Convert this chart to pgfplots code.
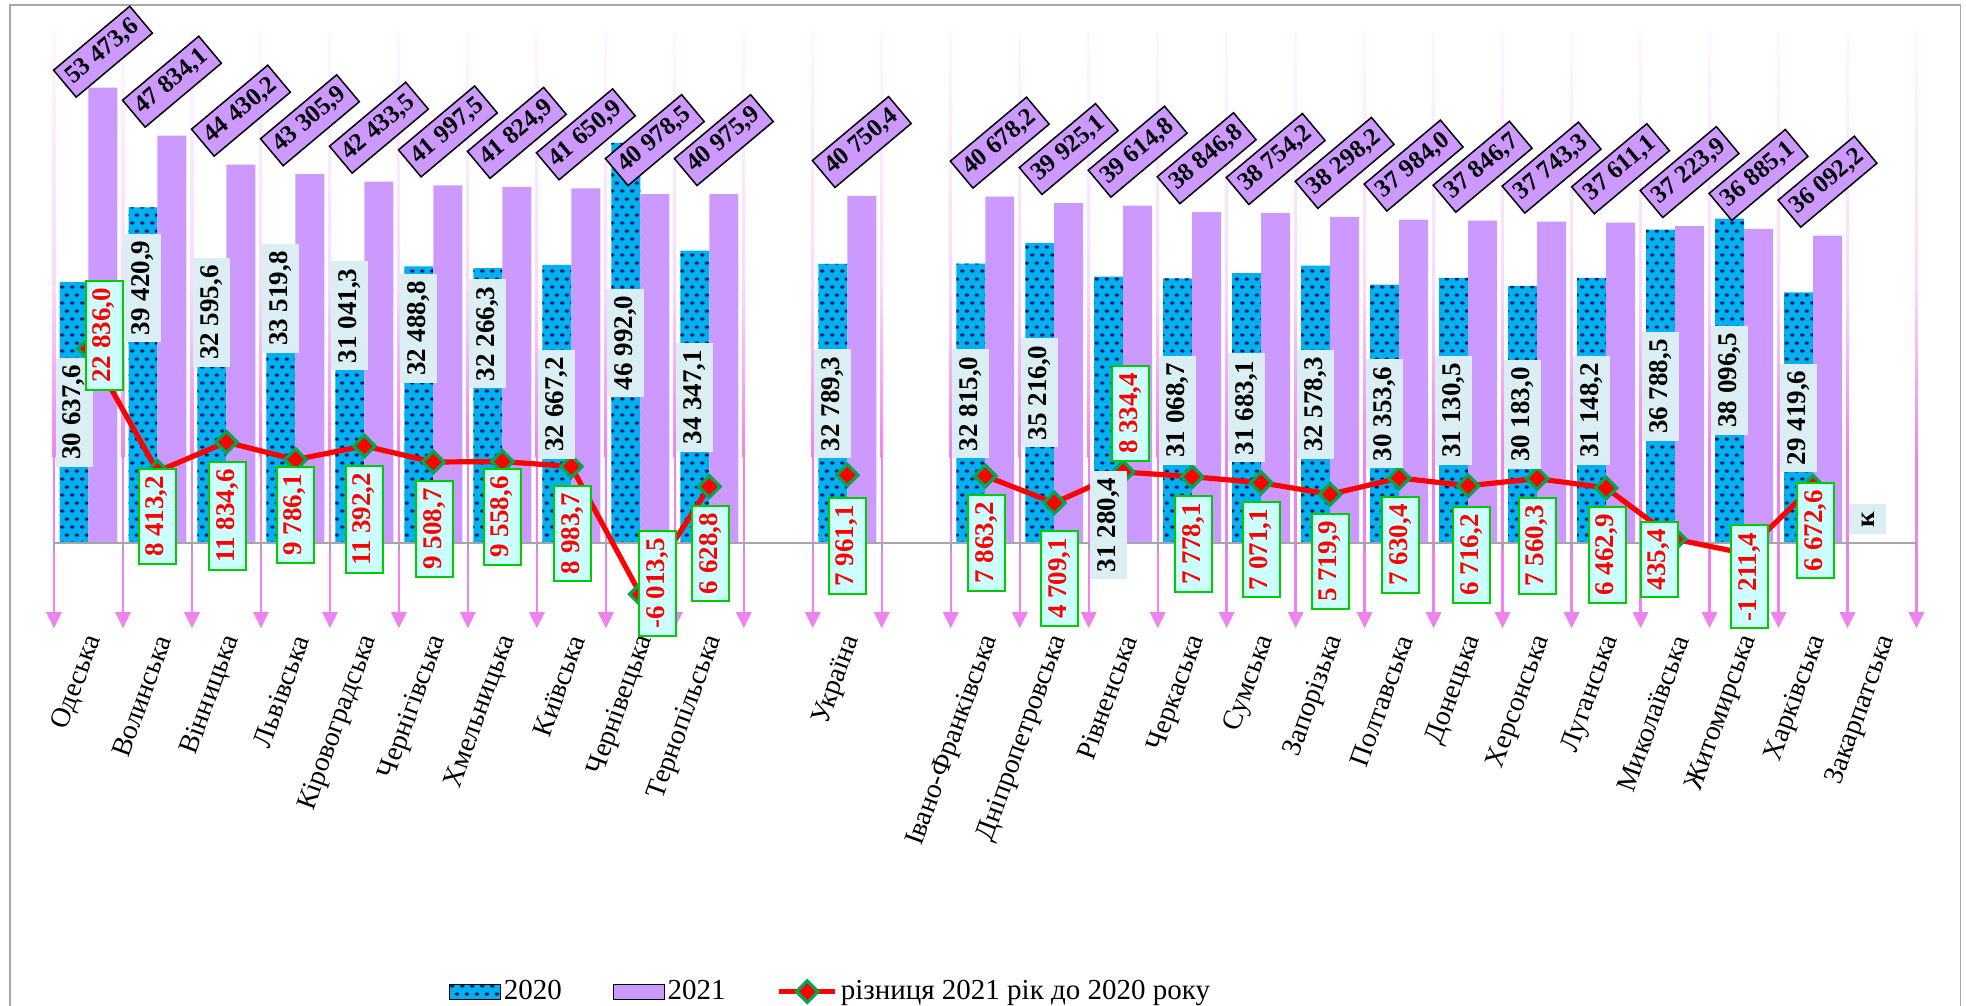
\documentclass[border=0pt]{standalone}
\usepackage{fontspec}
\setmainfont{Liberation Serif}
\usepackage{pgfplots}
\pgfplotsset{compat=1.18}
\usepackage{pgfplotstable}
\usetikzlibrary{patterns.meta}

\definecolor{b20}{HTML}{00B0F0}
\definecolor{dot20}{HTML}{002060}
\definecolor{p21}{HTML}{CC99FF}
\definecolor{lab20fill}{HTML}{DAEEF3}
\definecolor{labdfill}{HTML}{CCFFFF}
\definecolor{labdborder}{HTML}{00CC00}
\definecolor{mkgreen}{HTML}{00A650}
\definecolor{gridv}{HTML}{EE82EE}
\definecolor{axgray}{HTML}{A6A6A6}

\tikzdeclarepattern{
  name=exceldots,
  type=uncolored,
  bounding box={(0pt,0pt) and (5pt,8.2pt)},
  tile size={(5pt,8.2pt)},
  code={
    \fill (1.25pt,2.05pt) ellipse [x radius=1.25pt, y radius=0.85pt];
    \fill (3.75pt,6.15pt) ellipse [x radius=1.25pt, y radius=0.85pt];
  }
}

\tikzset{
  lab21/.style={font=\fontsize{12.5}{13}\selectfont\bfseries, text=black, fill=p21, draw=black, line width=0.75pt, rotate=40, inner xsep=3pt, inner ysep=3.2pt, text height=8.6pt, text depth=2.6pt, anchor=center},
  lab20/.style={font=\fontsize{13.5}{14}\selectfont\bfseries, text=black, fill=lab20fill, draw=none, rotate=90, inner xsep=3.6pt, inner ysep=3.3pt, text height=9.2pt, text depth=2.7pt, anchor=center},
  labd/.style={font=\fontsize{13.5}{14}\selectfont\bfseries, text=red, fill=labdfill, draw=labdborder, line width=1pt, rotate=90, inner xsep=3.6pt, inner ysep=3.3pt, text height=9.2pt, text depth=2.7pt, anchor=center},
}
\pgfplotsset{
  barleg/.style={legend image code/.code={\draw[##1] (0pt,-3.75pt) rectangle (25.5pt,3.75pt);}},
  lineleg/.style={legend image code/.code={\draw[##1, mark repeat=2, mark phase=2] plot coordinates {(0pt,0pt) (14pt,0pt) (28pt,0pt)};}},
}

\pgfplotstableread{
x a b d
0 30637.6 53473.6 22836.0
1 39420.9 47834.1 8413.2
2 32595.6 44430.2 11834.6
3 33519.8 43305.9 9786.1
4 31041.3 42433.5 11392.2
5 32488.8 41997.5 9508.7
6 32266.3 41824.9 9558.6
7 32667.2 41650.9 8983.7
8 46992.0 40978.5 -6013.5
9 34347.1 40975.9 6628.8
10 nan nan nan
11 32789.3 40750.4 7961.1
12 nan nan nan
13 32815.0 40678.2 7863.2
14 35216.0 39925.1 4709.1
15 31280.4 39614.8 8334.4
16 31068.7 38846.8 7778.1
17 31683.1 38754.2 7071.1
18 32578.3 38298.2 5719.9
19 30353.6 37984.0 7630.4
20 31130.5 37846.7 6716.2
21 30183.0 37743.3 7560.3
22 31148.2 37611.1 6462.9
23 36788.5 37223.9 435.4
24 38096.5 36885.1 -1211.4
25 29419.6 36092.2 6672.6
26 nan nan nan
}\datatable

\pgfplotstableread[col sep=semicolon]{
x;y;t
0.21;57700;53 473,6
1.21;54174.1;47 834,1
2.21;50770.2;44 430,2
3.21;49645.9;43 305,9
4.21;48773.5;42 433,5
5.21;48337.5;41 997,5
6.21;48164.9;41 824,9
7.21;47990.9;41 650,9
8.21;47318.5;40 978,5
9.21;47315.9;40 975,9
11.21;47090.4;40 750,4
13.21;47018.2;40 678,2
14.21;46265.1;39 925,1
15.21;45954.8;39 614,8
16.21;45186.8;38 846,8
17.21;45094.2;38 754,2
18.21;44638.2;38 298,2
19.21;44324.0;37 984,0
20.21;44186.7;37 846,7
21.21;44083.3;37 743,3
22.21;43951.1;37 611,1
23.21;43563.9;37 223,9
24.21;43225.1;36 885,1
25.21;42432.2;36 092,2
}\labB

\pgfplotstableread[col sep=semicolon]{
x;y;t
-0.21;15330;30 637,6
0.79;29950;39 420,9
1.79;27050;32 595,6
2.79;28700;33 519,8
3.79;26680;31 041,3
4.79;25170;32 488,8
5.79;24550;32 266,3
6.79;16290;32 667,2
7.79;23490;46 992,0
8.79;17120;34 347,1
10.79;16330;32 789,3
12.79;16330;32 815,0
13.79;17620;35 216,0
14.79;2110;31 280,4
15.79;15560;31 068,7
16.79;15860;31 683,1
17.79;16240;32 578,3
18.79;15170;30 353,6
19.79;15560;31 130,5
20.79;15070;30 183,0
21.79;15560;31 148,2
22.79;18350;36 788,5
23.79;19090;38 096,5
24.79;14680;29 419,6
25.79;2760;к
}\labA

\pgfplotstableread[col sep=semicolon]{
x;y;t
0.23;24370;22 836,0
1;3130;8 413,2
2.02;3190;11 834,6
3;3290;9 786,1
4;2780;11 392,2
5.02;1660;9 508,7
6;3050;9 558,6
7.02;1090;8 983,7
8.25;-4760;-6 013,5
9.02;-1260;6 628,8
11;-350;7 961,1
13.02;0;7 863,2
14.08;-4150;4 709,1
15.11;15230;8 334,4
16.02;-120;7 778,1
17;-780;7 071,1
18;-2150;5 719,9
19.02;-230;7 630,4
20.05;-1410;6 716,2
21;-350;7 560,3
22.02;-1410;6 462,9
22.77;-1960;435,4
24.08;-3970;-1 211,4
25.04;1450;6 672,6
}\labD

\begin{document}
\begin{tikzpicture}
\draw[axgray, line width=0.8pt] (4.9pt,-5pt) -- (4.9pt,500.5pt) -- (980.3pt,500.5pt) -- (980.3pt,-5pt);
\begin{axis}[
  scale only axis,
  width=931.25pt, height=298pt,
  at={(27pt,188.95pt)}, anchor=south west,
  xmin=-0.5, xmax=26.5, ymin=-10000, ymax=60000,
  clip=false,
  axis x line=bottom, axis y line=left,
  axis line style={draw=none},
  ytick=\empty, scaled y ticks=false,
  xtick={0,...,26},
  major tick length=0pt,
  xticklabels={Одеська,Волинська,Вінницька,Львівська,Кіровоградська,Чернігівська,Хмельницька,Київська,Чернівецька,Тернопільська,{},Україна,{},Івано-Франківська,Дніпропетровська,Рівненська,Черкаська,Сумська,Запорізька,Полтавська,Донецька,Херсонська,Луганська,Миколаївська,Житомирська,Харківська,Закарпатська},
  xticklabel style={font=\fontsize{14}{16}\selectfont, xshift=3pt, yshift=-4pt, rotate=70, anchor=east, inner sep=0pt},
  legend style={at={(0.4172,-0.610)}, anchor=center, draw=none, fill=none,
    legend columns=-1, font=\fontsize{14.5}{16}\selectfont, inner sep=0pt,
    nodes={inner sep=1.5pt},
    /tikz/every even column/.append style={column sep=24pt}},
  legend cell align=left,
]
\pgfplotsinvokeforeach{-0.5,0.5,...,26.5}{
  \shade[top color=gridv!6, bottom color=gridv!30] ([xshift=-0.65pt]axis cs:#1,60000) rectangle ([xshift=0.65pt]axis cs:#1,30000);
  \shade[top color=gridv!30, bottom color=gridv] ([xshift=-0.65pt]axis cs:#1,30000) rectangle ([xshift=0.65pt]axis cs:#1,10000);
  \fill[gridv] ([xshift=-0.6pt]axis cs:#1,10000) rectangle ([xshift=0.6pt]axis cs:#1,-9000);
  \fill[gridv] (axis cs:#1,-10000) -- ([xshift=-4pt,yshift=8pt]axis cs:#1,-10000) -- ([xshift=4pt,yshift=8pt]axis cs:#1,-10000) -- cycle;
}

\addplot[ybar, bar width=0.42, bar shift=-0.21, fill=b20, draw=none,
  postaction={pattern=exceldots, pattern color=dot20}, barleg]
  table[x=x, y=a] {\datatable};
\addplot[ybar, bar width=0.42, bar shift=0.21, fill=p21, draw=none, barleg]
  table[x=x, y=b] {\datatable};

\draw[axgray, line width=0.9pt] (axis cs:-0.5,0) -- (axis cs:26.5,0);
\pgfplotsinvokeforeach{-0.5,0.5,...,26.5}{
  \draw[axgray, line width=0.9pt] (axis cs:#1,0) -- ([yshift=-3.3pt]axis cs:#1,0);
}

\addplot[red, line width=2.6pt, mark=square*, mark size=3.8pt,
  mark options={rotate=45, fill=red, draw=mkgreen, line width=1.6pt, solid},
  unbounded coords=jump, lineleg]
  table[x=x, y=d] {\datatable};

\addplot[draw=none, forget plot, point meta=explicit symbolic, nodes near coords,
  every node near coord/.append style={lab21}]
  table[x=x, y=y, meta=t] {\labB};
\addplot[draw=none, forget plot, point meta=explicit symbolic, nodes near coords,
  every node near coord/.append style={lab20}]
  table[x=x, y=y, meta=t] {\labA};
\addplot[draw=none, forget plot, point meta=explicit symbolic, nodes near coords,
  every node near coord/.append style={labd}]
  table[x=x, y=y, meta=t] {\labD};

\legend{2020,2021,різниця 2021 рік до 2020 року}
\end{axis}
\pgfresetboundingbox
\useasboundingbox (0,0) rectangle (983pt,503pt);
\end{tikzpicture}
\end{document}
